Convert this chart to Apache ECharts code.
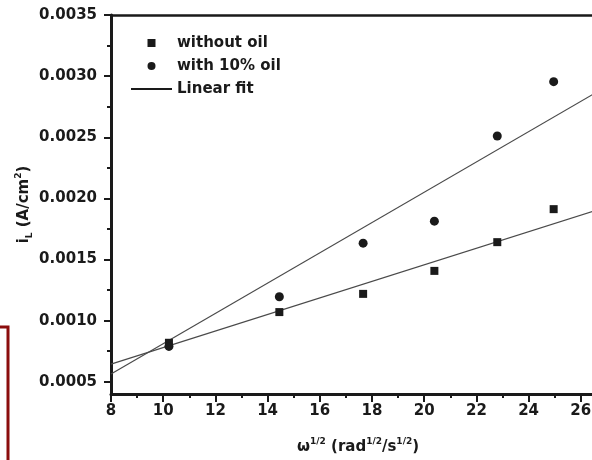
<!DOCTYPE html>
<html>
<head>
<meta charset="utf-8">
<script src="https://cdn.jsdelivr.net/npm/echarts@6/dist/echarts.min.js"></script>
<style>
  html, body { margin: 0; padding: 0; background: #ffffff; }
  #chart { width: 592px; height: 460px; }
</style>
</head>
<body>
<div id="chart"></div>
<script>
// Limiting current i_L against the square root of the rotation rate
const omegaRoot = [10.22, 14.45, 17.66, 20.39, 22.80, 24.96];
const iWithoutOil = [0.000819, 0.00107, 0.001219, 0.001407, 0.001642, 0.001912];
const iWithOil = [0.000789, 0.001195, 0.001634, 0.001814, 0.00251, 0.002955];

// Linear fit coefficients: [intercept, slope]
const fitWithoutOil = [0.000103, 0.0000677];
const fitWithOil = [-0.000428, 0.0001239];

// Axis ranges and tick values
const xRange = [8, 28];
const xTickStep = 2;
const yRange = [0.0004, 0.0035];
const yTickValues = [0.0005, 0.0010, 0.0015, 0.0020, 0.0025, 0.0030, 0.0035];
const yMinorTickValues = [0.00075, 0.00125, 0.00175, 0.00225, 0.00275, 0.00325];

const seriesNames = ['without oil', 'with 10% oil', 'Linear fit'];

const FONT = 'DejaVu Sans';
const INK = '#1a1a1a';
const FIT_INK = '#4a4a4a';

function pairs(xs, ys) {
  return xs.map((x, i) => [x, ys[i]]);
}
function fitLine(coef) {
  return xRange.map(x => [x, coef[0] + coef[1] * x]);
}

const chart = echarts.init(document.getElementById('chart'), null, { renderer: 'canvas' });

const option = {
  backgroundColor: '#ffffff',
  animation: false,
  grid: {
    left: 111,
    top: 15,
    right: -41,
    bottom: 66,
    outerBoundsMode: 'none'
  },
  legend: {
    orient: 'vertical',
    left: 130,
    top: 34,
    padding: 0,
    itemWidth: 41,
    itemHeight: 10,
    itemGap: 5,
    selectedMode: false,
    textStyle: { fontFamily: FONT, fontWeight: 'bold', fontSize: 15, color: INK, lineHeight: 18 },
    data: [
      { name: seriesNames[0] },
      { name: seriesNames[1] },
      { name: seriesNames[2], itemStyle: { color: 'rgba(0,0,0,0)', borderWidth: 0 }, lineStyle: { color: INK } }
    ]
  },
  xAxis: [
    {
      type: 'value',
      position: 'bottom',
      min: xRange[0],
      max: xRange[1],
      interval: xTickStep,
      axisLine: { show: true, lineStyle: { color: INK, width: 3 } },
      axisTick: { show: true, inside: false, length: 8, lineStyle: { color: INK, width: 2 } },
      minorTick: { show: true, splitNumber: 2, length: 4, lineStyle: { color: INK, width: 2 } },
      splitLine: { show: false },
      axisLabel: { fontFamily: FONT, fontWeight: 'bold', fontSize: 15, color: INK, margin: 10 },
      name: '{b|ω}{sup|1/2}{b| (rad}{sup|1/2}{b|/s}{sup|1/2}{b|)}',
      nameLocation: 'middle',
      nameGap: 43,
      nameMoveOverlap: false,
      nameTextStyle: {
        padding: [0, 28, 0, 0],
        rich: {
          b: { fontFamily: FONT, fontWeight: 'bold', fontSize: 15, color: INK, lineHeight: 20 },
          sup: { fontFamily: FONT, fontWeight: 'bold', fontSize: 9, color: INK, lineHeight: 20, verticalAlign: 'top' }
        }
      }
    },
    {
      type: 'value',
      position: 'top',
      min: xRange[0],
      max: xRange[1],
      axisLine: { show: true, lineStyle: { color: INK, width: 2.5 } },
      axisTick: { show: false },
      axisLabel: { show: false },
      splitLine: { show: false }
    }
  ],
  yAxis: [
    {
      type: 'value',
      position: 'left',
      min: yRange[0],
      max: yRange[1],
      axisLine: { show: true, lineStyle: { color: INK, width: 3 } },
      axisTick: { show: true, inside: false, length: 7, customValues: yTickValues, lineStyle: { color: INK, width: 2 } },
      axisLabel: {
        customValues: yTickValues,
        formatter: v => v.toFixed(4),
        fontFamily: FONT, fontWeight: 'bold', fontSize: 15, color: INK, margin: 14
      },
      splitLine: { show: false },
      name: '{b|i}{sub|L}{b| (A/cm}{sup|2}{b|)}',
      nameLocation: 'middle',
      nameGap: 77,
      nameRotate: 90,
      nameMoveOverlap: false,
      nameTextStyle: {
        rich: {
          b: { fontFamily: FONT, fontWeight: 'bold', fontSize: 15, color: INK, lineHeight: 20 },
          sub: { fontFamily: FONT, fontWeight: 'bold', fontSize: 9, color: INK, lineHeight: 20, verticalAlign: 'bottom' },
          sup: { fontFamily: FONT, fontWeight: 'bold', fontSize: 9, color: INK, lineHeight: 20, verticalAlign: 'top' }
        }
      }
    },
    {
      type: 'value',
      position: 'left',
      min: yRange[0],
      max: yRange[1],
      axisLine: { show: false },
      axisTick: { show: true, inside: false, length: 4, customValues: yMinorTickValues, lineStyle: { color: INK, width: 2 } },
      axisLabel: { show: false },
      splitLine: { show: false }
    }
  ],
  series: [
    {
      name: seriesNames[0],
      type: 'line',
      data: pairs(omegaRoot, iWithoutOil),
      symbol: 'rect',
      symbolSize: 8,
      showSymbol: true,
      showAllSymbol: true,
      lineStyle: { color: 'rgba(0,0,0,0)', width: 1 },
      itemStyle: { color: INK },
      silent: true,
      z: 3
    },
    {
      name: seriesNames[1],
      type: 'line',
      data: pairs(omegaRoot, iWithOil),
      symbol: 'circle',
      symbolSize: 9,
      showSymbol: true,
      showAllSymbol: true,
      lineStyle: { color: 'rgba(0,0,0,0)', width: 1 },
      itemStyle: { color: INK },
      silent: true,
      z: 3
    },
    {
      name: seriesNames[2],
      type: 'line',
      data: fitLine(fitWithoutOil),
      symbol: 'none',
      lineStyle: { color: FIT_INK, width: 1.2 },
      itemStyle: { color: FIT_INK },
      silent: true,
      z: 2
    },
    {
      name: seriesNames[2],
      type: 'line',
      data: fitLine(fitWithOil),
      symbol: 'none',
      lineStyle: { color: FIT_INK, width: 1.2 },
      itemStyle: { color: FIT_INK },
      silent: true,
      z: 2
    }
  ],
  graphic: [
    {
      type: 'polyline',
      shape: { points: [[0, 327], [8, 327], [8, 462]] },
      style: { stroke: '#8b0d0d', lineWidth: 3, fill: null },
      silent: true
    }
  ]
};

chart.setOption(option);
</script>
</body>
</html>
